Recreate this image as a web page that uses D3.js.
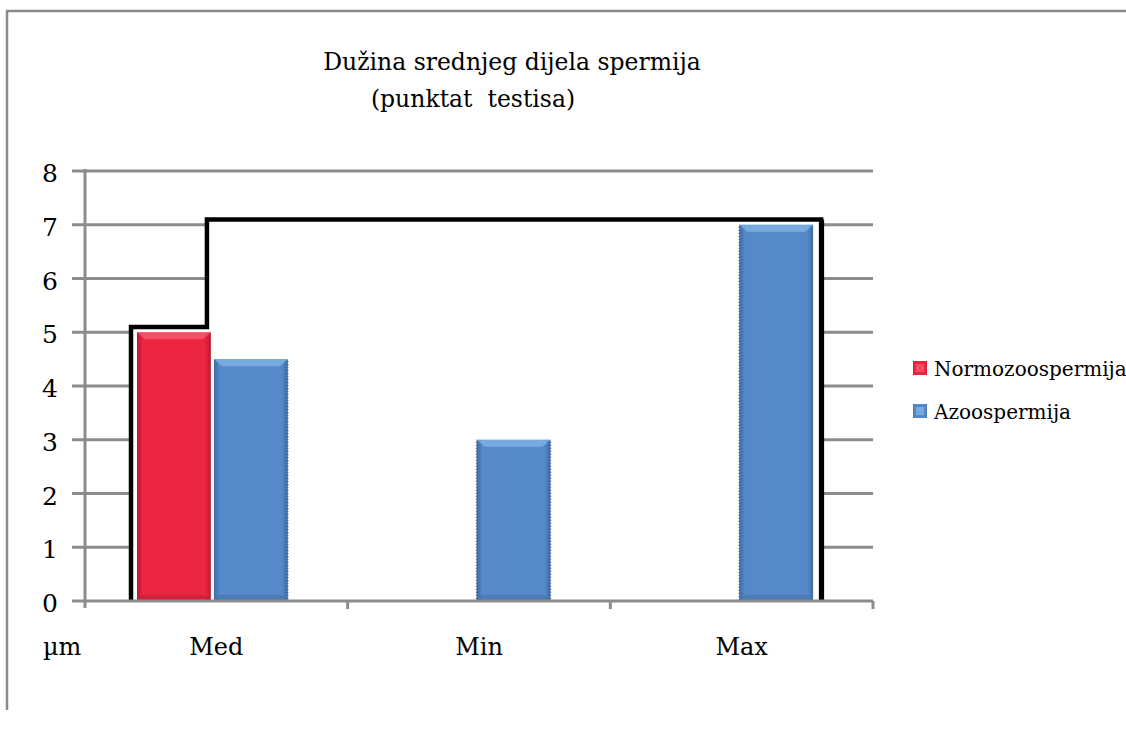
<!DOCTYPE html>
<html><head><meta charset="utf-8">
<script src="https://cdn.jsdelivr.net/npm/d3@7"></script>
<style>
html,body{margin:0;padding:0;background:#fff;}
text{font-family:"DejaVu Serif","Liberation Serif",serif;fill:#000;}
</style></head>
<body><svg id="chart" width="1126" height="729"></svg>
<script>
const categories = ["Med", "Min", "Max"];
const seriesNames = ["Normozoospermija", "Azoospermija"];
const normozoospermija = [5, null, null];
const azoospermija = [4.5, 3, 7];
const yTicks = [0, 1, 2, 3, 4, 5, 6, 7, 8];
const outlineLevels = [5.1, 7.1];
const titleLines = ["Dužina srednjeg dijela spermija", "(punktat  testisa)"];
const unitLabel = "µm";
const colors = {Normozoospermija: "#ec2541", Azoospermija: "#5689c9"};
const darkColors = {Normozoospermija: "#b81a30", Azoospermija: "#3e6aa3"};
const lightColors = {Normozoospermija: "#ff6b80", Azoospermija: "#8fc0f0"};

const svg = d3.select("#chart");
const defs = svg.append("defs");
seriesNames.forEach((s, i) => {
  const g = defs.append("linearGradient").attr("id", "g" + i).attr("x1", 0).attr("x2", 1).attr("y1", 0).attr("y2", 0);
  g.append("stop").attr("offset", 0).attr("stop-color", darkColors[s]);
  g.append("stop").attr("offset", 0.08).attr("stop-color", colors[s]);
  g.append("stop").attr("offset", 0.92).attr("stop-color", colors[s]);
  g.append("stop").attr("offset", 1).attr("stop-color", darkColors[s]);
});

svg.append("path").attr("d", "M7,710 V11 H1126").attr("fill", "none").attr("stroke", "#8a8a8a").attr("stroke-width", 2.5);

const x0 = d3.scaleBand().domain(categories).range([85, 873]).paddingInner(0).paddingOuter(0);
const x1 = d3.scaleBand().domain(seriesNames).range([x0.bandwidth() * 0.198, x0.bandwidth() * 0.772]).paddingInner(0.04);
const y = d3.scaleLinear().domain([0, 8]).range([601, 171]);

svg.append("g").selectAll("line").data(yTicks.filter(d => d > 0)).join("line")
  .attr("x1", 72).attr("x2", 873).attr("y1", d => y(d)).attr("y2", d => y(d))
  .attr("stroke", "#8c8c8c").attr("stroke-width", 3);

const xLeft = x0("Med") + x1("Normozoospermija") - 6;
const xStep = x0("Med") + x1("Azoospermija") - 7;
const xRight = x0("Max") + x1("Azoospermija") + x1.bandwidth() + 8;
svg.append("path")
  .attr("d", `M${xLeft},${y(0)} V${y(outlineLevels[0])} H${xStep} V${y(outlineLevels[1])} H${xRight} V${y(0)} Z`)
  .attr("fill", "#fff").attr("stroke", "none");
svg.append("path")
  .attr("d", `M${xLeft},${y(0)} V${y(outlineLevels[0])} H${xStep} V${y(outlineLevels[1])} H${xRight} V${y(0)}`)
  .attr("fill", "none").attr("stroke", "#000").attr("stroke-width", 4.5).attr("stroke-linejoin", "miter");
svg.append("line").attr("x1", xRight + 1.5).attr("x2", xRight + 1.5).attr("y1", y(outlineLevels[1])).attr("y2", y(0))
  .attr("stroke", "#000").attr("stroke-width", 3);

const barData = [];
categories.forEach((c, i) => {
  if (normozoospermija[i] != null) barData.push({c, s: "Normozoospermija", v: normozoospermija[i], si: 0});
  if (azoospermija[i] != null) barData.push({c, s: "Azoospermija", v: azoospermija[i], si: 1});
});
const bars = svg.append("g").selectAll("g").data(barData).join("g");
bars.append("rect")
  .attr("x", d => x0(d.c) + x1(d.s)).attr("width", x1.bandwidth())
  .attr("y", d => y(d.v)).attr("height", d => y(0) - y(d.v))
  .attr("fill", d => `url(#g${d.si})`);
bars.append("path")
  .attr("d", d => {
    const xa = x0(d.c) + x1(d.s), w = x1.bandwidth(), yt = y(d.v);
    return `M${xa},${yt} H${xa + w} L${xa + w - 8},${yt + 7} H${xa + 8} Z`;
  })
  .attr("fill", d => lightColors[d.s]).attr("opacity", 0.6);
bars.append("path")
  .attr("d", d => {
    const xa = x0(d.c) + x1(d.s), w = x1.bandwidth(), yb = y(0);
    return `M${xa},${yb} H${xa + w} L${xa + w - 6},${yb - 6} H${xa + 6} Z`;
  })
  .attr("fill", d => darkColors[d.s]).attr("opacity", 0.45);
bars.filter(d => d.s === "Azoospermija").each(function(d) {
  const g = d3.select(this);
  const xa = x0(d.c) + x1(d.s), w = x1.bandwidth();
  const edges = d.c === "Med" ? [xa + w] : d.c === "Min" ? [xa, xa + w] : [xa];
  edges.forEach(ex => g.append("line").attr("x1", ex).attr("x2", ex).attr("y1", y(d.v) + 2).attr("y2", y(0))
    .attr("stroke", "#2f4f7a").attr("stroke-width", 1.5).attr("stroke-dasharray", "1,2"));
});

svg.append("line").attr("x1", 85).attr("x2", 85).attr("y1", y(8) - 2).attr("y2", y(0) + 7)
  .attr("stroke", "#8c8c8c").attr("stroke-width", 3);
svg.append("line").attr("x1", 72).attr("x2", 873).attr("y1", y(0)).attr("y2", y(0))
  .attr("stroke", "#8c8c8c").attr("stroke-width", 3);
svg.append("g").selectAll("line").data(categories.map(c => x0(c) + x0.bandwidth())).join("line")
  .attr("x1", d => d).attr("x2", d => d).attr("y1", y(0)).attr("y2", y(0) + 8)
  .attr("stroke", "#8c8c8c").attr("stroke-width", 3);
svg.append("g").selectAll("text").data(yTicks).join("text")
  .attr("x", 50).attr("y", d => y(d) + 11).attr("text-anchor", "middle").attr("font-size", 25)
  .text(d => d);

svg.append("g").selectAll("text").data(categories).join("text")
  .attr("x", d => x0(d) + x0.bandwidth() / 2).attr("y", 655).attr("text-anchor", "middle").attr("font-size", 24)
  .text(d => d);
svg.append("text").attr("x", 43).attr("y", 655).attr("font-size", 24).text(unitLabel);

svg.append("text").attr("x", 512).attr("y", 70).attr("text-anchor", "middle").attr("font-size", 23.5)
  .text(titleLines[0]);
svg.append("text").attr("x", 473).attr("y", 107).attr("text-anchor", "middle").attr("font-size", 23.5)
  .style("white-space", "pre").text(titleLines[1]);

const leg = svg.append("g").selectAll("g").data(seriesNames).join("g")
  .attr("transform", (d, i) => `translate(913,${361 + i * 43})`);
leg.append("rect").attr("width", 14).attr("height", 14).attr("fill", (d, i) => `url(#g${i})`);
leg.append("rect").attr("x", 3).attr("y", 3).attr("width", 8).attr("height", 8).attr("fill", d => lightColors[d]).attr("opacity", 0.6);
leg.append("text").attr("x", 21).attr("y", 15).attr("font-size", 20).text(d => d);
</script></body></html>
